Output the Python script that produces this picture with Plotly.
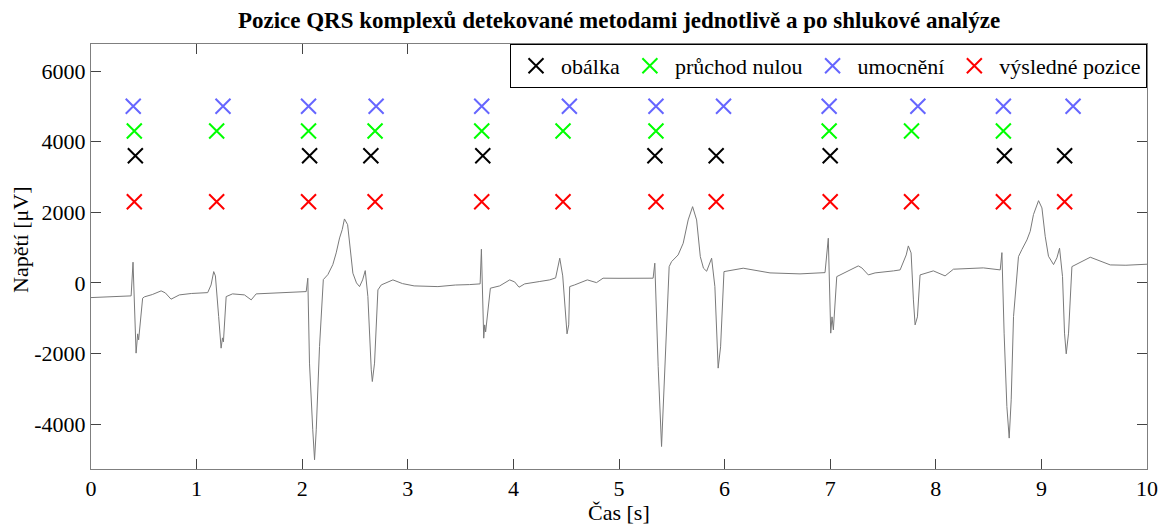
import plotly.graph_objects as go

# ECG signal (time in s, voltage in microvolts)
ecg_t = [0.00, 0.10, 0.20, 0.30, 0.38, 0.398, 0.427, 0.442, 0.451, 0.489, 0.505, 0.58, 0.664, 0.704, 0.758,
         0.837, 0.95, 1.105, 1.137, 1.162, 1.178, 1.209, 1.232, 1.245, 1.254, 1.280, 1.34, 1.453, 1.517,
         1.564, 1.70, 1.88, 2.038, 2.053, 2.069, 2.10, 2.117, 2.133, 2.164, 2.20, 2.243, 2.29, 2.322, 2.354, 2.379, 2.40,
         2.43, 2.48, 2.514, 2.543, 2.572, 2.597, 2.622, 2.654, 2.664, 2.685, 2.717, 2.749, 2.859, 2.95,
         3.017, 3.06, 3.285, 3.45, 3.586, 3.685, 3.697, 3.719, 3.728, 3.737, 3.782, 3.87, 3.965, 4.012,
         4.053, 4.107, 4.25, 4.344, 4.40, 4.439, 4.467, 4.508, 4.524, 4.533, 4.58, 4.70, 4.787, 4.849,
         5.0, 5.15, 5.323, 5.339, 5.371, 5.403, 5.435, 5.475, 5.498, 5.56, 5.608, 5.655, 5.697, 5.735, 5.77, 5.80, 5.83,
         5.877, 5.908, 5.939, 5.962, 5.994, 6.176, 6.43, 6.714, 6.951, 6.982, 7.005, 7.017,
         7.03, 7.062, 7.266, 7.30, 7.361, 7.425, 7.5, 7.6, 7.662, 7.72, 7.74, 7.766, 7.788, 7.804,
         7.826, 7.851, 7.977, 8.088, 8.167, 8.30, 8.45, 8.61, 8.626, 8.647, 8.673, 8.695, 8.714, 8.736,
         8.783, 8.815, 8.863, 8.894, 8.925, 8.973, 9.005, 9.036, 9.067, 9.115, 9.147, 9.172, 9.20, 9.219, 9.235, 9.257, 9.289,
         9.463, 9.652, 9.80, 10.0]
ecg_v = [-416, -400, -390, -380, -368, 586, -1989, -1443, -1613, -433, -396, -330, -226, -283, -461,
         -340, -300, -275, -57, 320, 198, -954, -1848, -1557, -1670, -388, -311, -340, -481,
         -311, -290, -283, -246, 133, -2272, -4160, -5009, -4160, -1803, 94, 235, 518, 850, 1274, 1508, 1811,
         1650, 275, 0, -105, 85, 348, -388, -2462, -2793, -2272, -198, -57, 85, -20,
         -57, -85, -105, -60, -48, -28, 954, -1565, -1189, -1387, -150, -85, 85, 28,
         -122, -28, 40, 85, 142, 699, 198, -1443, -1189, -105, -57, 85, 8, 133,
         130, 140, 133, 558, -2369, -4633, -2369, 461, 603, 792, 1123, 1783, 2159, 1783, 744, 416, 330,
         699, -105, -2414, -1811, 320, 416, 283, 255, 291, 1265, -1423, -962,
         -1330, 178, 481, 424, 226, 283, 300, 340, 368, 792, 1047, 849, -481, -1189,
         -962, 226, 340, 198, 388, 400, 425, 368, 857, -1423, -3501, -4395, -3311, -954,
         744, 943, 1217, 1462, 1935, 2329, 2123, 1321, 755, 519, 708, 982, 178, -1423, -2009, -1423, 461,
         727, 509, 500, 529]

# detected QRS positions (s) per method
obalka_t = [0.42, 2.07, 2.65, 3.71, 5.34, 5.92, 7.00, 8.65, 9.22]
obalka_v = [3600] * len(obalka_t)
pruchod_t = [0.41, 1.19, 2.06, 2.69, 3.70, 4.47, 5.35, 6.99, 7.77, 8.64]
pruchod_v = [4300] * len(pruchod_t)
umocneni_t = [0.40, 1.25, 2.06, 2.70, 3.70, 4.53, 5.35, 5.99, 6.99, 7.83, 8.64, 9.30]
umocneni_v = [5000] * len(umocneni_t)
vysledne_t = [0.41, 1.19, 2.06, 2.69, 3.70, 4.47, 5.35, 5.92, 7.00, 7.77, 8.64, 9.22]
vysledne_v = [2300] * len(vysledne_t)

y_ticks = [-4000, -2000, 0, 2000, 4000, 6000]
y_ticktext = ["-4000", "-2000", "0", "2000", "4000", "6000"]
x_ticks = list(range(0, 11))

FONT = "Liberation Serif"

fig = go.Figure()
fig.add_trace(go.Scatter(x=ecg_t, y=ecg_v, mode="lines", line=dict(color="#7a7a7a", width=1),
                         showlegend=False, hoverinfo="skip"))

def mk(name, t, v, color):
    fig.add_trace(go.Scatter(x=t, y=v, mode="markers", name=name,
                             marker=dict(symbol="x-thin", size=15, line=dict(color=color, width=2))))

mk("obálka", obalka_t, obalka_v, "#000000")
mk("průchod nulou", pruchod_t, pruchod_v, "#00FF00")
mk("umocnění", umocneni_t, umocneni_v, "#6666FF")
mk("výsledné pozice", vysledne_t, vysledne_v, "#FF0000")

axis_common = dict(showgrid=False, zeroline=False, showline=True, linecolor="#7f7f7f", linewidth=1,
                   mirror="allticks", ticks="inside", ticklen=10, tickcolor="#444444", automargin=False,
                   tickfont=dict(family=FONT, size=22, color="black"))

# the page body has an 8 px default margin, so the figure is 8 px smaller than the window
fig.update_layout(
    width=1163, height=516,
    margin=dict(l=83, r=24, t=36, b=55),
    paper_bgcolor="white", plot_bgcolor="white",
    font=dict(family=FONT, size=22, color="black"),
    title=dict(text="<b>Pozice QRS komplexů detekované metodami jednotlivě a po shlukové analýze</b>",
               x=0.5, xref="paper", xanchor="center", y=0.9767, yanchor="middle",
               font=dict(family=FONT, size=23, color="black")),
    xaxis=dict(range=[0, 10], tickvals=x_ticks, **axis_common),
    yaxis=dict(range=[-5270, 6765], tickvals=y_ticks, ticktext=y_ticktext, **axis_common),
    legend=dict(orientation="h", x=1, xanchor="right", y=1, yanchor="top",
                bordercolor="black", borderwidth=1, bgcolor="white",
                font=dict(family=FONT, size=22), itemwidth=40),
    annotations=[
        dict(text="Čas [s]", xref="paper", yref="paper", x=0.5, y=-0.1012, xanchor="center",
             yanchor="middle", showarrow=False, font=dict(family=FONT, size=22, color="black")),
        dict(text="Napětí [μV]", xref="paper", yref="paper", x=-0.0663, y=0.539, xanchor="center",
             yanchor="middle", textangle=-90, showarrow=False,
             font=dict(family=FONT, size=22, color="black")),
    ],
)

fig.write_html("out.html")
